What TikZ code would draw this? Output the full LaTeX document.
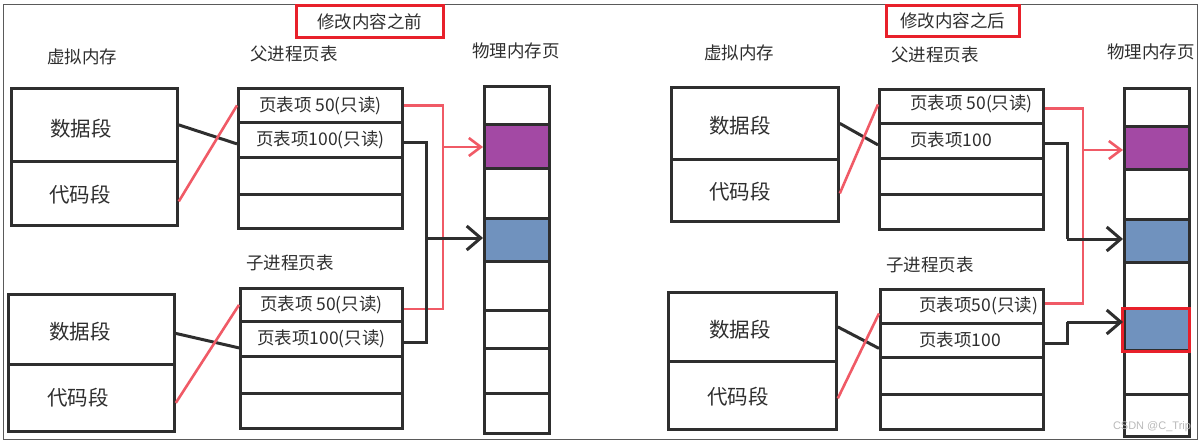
\documentclass[tikz,border=0pt]{standalone}
\usepackage{fontspec}
\setmainfont{Noto Sans CJK SC}
\newfontfamily\wmfont{Liberation Sans}
\usetikzlibrary{arrows.meta}
\definecolor{ink}{HTML}{2E2E2E}
\definecolor{pinkred}{HTML}{F05A66}
\definecolor{boxred}{HTML}{E8202A}
\definecolor{pagepurple}{HTML}{A349A4}
\definecolor{pageblue}{HTML}{7092BE}
\definecolor{framegray}{HTML}{5A5A5A}
\begin{document}
\begin{tikzpicture}[x=1pt,y=-1pt,
  cell/.style={draw=ink, line width=2.8pt, anchor=north west, inner sep=0pt,
    text=ink, font=\fontsize{17.5}{18}\selectfont},
  hdr/.style={text=ink, inner sep=0pt, font=\fontsize{17.5}{18}\selectfont},
  seg/.style={text=ink, inner sep=0pt, font=\fontsize{20.5}{21}\selectfont},
  ent/.style={text=ink, inner sep=0pt, anchor=west, font=\fontsize{17.5}{18}\selectfont},
  titlebox/.style={draw=boxred, line width=2.8pt, anchor=north west, inner sep=0pt,
    text=ink, font=\fontsize{17.5}{18}\selectfont},
  blk/.style={draw=ink, line width=3pt},
  redl/.style={draw=pinkred, line width=2.6pt},
  blkarr/.style={-{Straight Barb[length=14pt,width=24pt]}},
  redarr/.style={-{Straight Barb[length=12pt,width=18pt]}}
]
\useasboundingbox (0,0) rectangle (1201,442);
\node[draw=framegray, line width=1.3pt, anchor=north west, inner sep=0pt,
  minimum width=1194pt, minimum height=435pt] (frame) at (3,4) {};

% ================= LEFT PANEL =================
\node[titlebox, minimum width=147pt, minimum height=32pt] (ltitle) at (295,4) {修改内容之前};
\node[hdr] (lvmh) at (82,57) {虚拟内存};
\node[hdr] (lpth) at (294,54) {父进程页表};
\node[hdr] (lphh) at (516,51) {物理内存页};
\node[hdr] (lcth) at (290,263) {子进程页表};

% virtual memory
\node[cell, minimum width=166pt, minimum height=73pt] (lvd1) at (10,87) {};
\node[cell, minimum width=166pt, minimum height=64pt] (lvc1) at (10,160) {};
\node[seg] (lvd1t) at (81,129) {数据段};
\node[seg] (lvc1t) at (80,195) {代码段};
\node[cell, minimum width=166pt, minimum height=70pt] (lvd2) at (7,293) {};
\node[cell, minimum width=166pt, minimum height=67pt] (lvc2) at (7,363) {};
\node[seg] (lvd2t) at (80,332) {数据段};
\node[seg] (lvc2t) at (78,398) {代码段};

% parent page table
\node[cell, minimum width=164pt, minimum height=34pt] (lp1) at (237,87) {页表项 50(只读)};
\node[cell, minimum width=164pt, minimum height=35pt] (lp2) at (237,121) {页表项100(只读)};
\node[cell, minimum width=164pt, minimum height=37pt] (lp3) at (237,156) {};
\node[cell, minimum width=164pt, minimum height=34pt] (lp4) at (237,193) {};
% child page table
\node[cell, minimum width=162pt, minimum height=33pt] (lc1) at (239,287) {页表项 50(只读)};
\node[cell, minimum width=162pt, minimum height=35pt] (lc2) at (239,320) {页表项100(只读)};
\node[cell, minimum width=162pt, minimum height=37pt] (lc3) at (239,355) {};
\node[cell, minimum width=162pt, minimum height=35pt] (lc4) at (239,392) {};

% physical pages
\node[cell, minimum width=65pt, minimum height=38pt] (lm1) at (483,85) {};
\node[cell, minimum width=65pt, minimum height=44pt, fill=pagepurple] (lm2) at (483,123) {};
\node[cell, minimum width=65pt, minimum height=50pt] (lm3) at (483,167) {};
\node[cell, minimum width=65pt, minimum height=43pt, fill=pageblue] (lm4) at (483,217) {};
\node[cell, minimum width=65pt, minimum height=49pt] (lm5) at (483,260) {};
\node[cell, minimum width=65pt, minimum height=38pt] (lm6) at (483,309) {};
\node[cell, minimum width=65pt, minimum height=45pt] (lm7) at (483,347) {};
\node[cell, minimum width=65pt, minimum height=40pt] (lm8) at (483,392) {};

% connectors
\draw[blk] (lvd1.east) -- ([yshift=-4pt]lp2.west);
\draw[redl] ([yshift=-8pt]lvc1.east) -- (lp1.west);
\draw[blk] ([yshift=-4pt]lvd2.east) -- ([yshift=-9pt]lc2.west);
\draw[redl] ([yshift=-5pt]lvc2.east) -- (lc1.west);

\coordinate (lrj) at (443,147);
\coordinate (lbj) at (426,238);
\draw[redl] (lp1.east) -| (lrj) |- ([yshift=-4pt]lc1.east);
\draw[redl, redarr] (lrj) -- (lrj -| lm2.west);
\draw[blk] ([yshift=-3pt]lp2.east) -| (lbj) |- ([yshift=-4pt]lc2.east);
\draw[blk, blkarr] (lbj) -- (lbj -| lm4.west);

% ================= RIGHT PANEL =================
\node[titlebox, minimum width=133pt, minimum height=31pt] (rtitle) at (885,4) {修改内容之后};
\node[hdr] (rvmh) at (739,53) {虚拟内存};
\node[hdr] (rpth) at (935,55) {父进程页表};
\node[hdr] (rphh) at (1151,52) {物理内存页};
\node[hdr] (rcth) at (930,265) {子进程页表};

% virtual memory
\node[cell, minimum width=167pt, minimum height=72pt] (rvd1) at (670,86) {};
\node[cell, minimum width=167pt, minimum height=62pt] (rvc1) at (670,158) {};
\node[seg] (rvd1t) at (740,126) {数据段};
\node[seg] (rvc1t) at (740,192) {代码段};
\node[cell, minimum width=168pt, minimum height=69pt] (rvd2) at (667,291) {};
\node[cell, minimum width=168pt, minimum height=68pt] (rvc2) at (667,360) {};
\node[seg] (rvd2t) at (740,330) {数据段};
\node[seg] (rvc2t) at (738,397) {代码段};

% parent page table
\node[cell, minimum width=164pt, minimum height=34pt] (rp1) at (878,88) {};
\node[cell, minimum width=164pt, minimum height=35pt] (rp2) at (878,122) {};
\node[cell, minimum width=164pt, minimum height=36pt] (rp3) at (878,157) {};
\node[cell, minimum width=164pt, minimum height=35pt] (rp4) at (878,193) {};
\node[ent] (rp1t) at (910,104) {页表项 50(只读)};
\node[ent] (rp2t) at (910,140) {页表项100};
% child page table
\node[cell, minimum width=163pt, minimum height=34pt] (rc1) at (879,288) {};
\node[cell, minimum width=163pt, minimum height=34pt] (rc2) at (879,322) {};
\node[cell, minimum width=163pt, minimum height=37pt] (rc3) at (879,356) {};
\node[cell, minimum width=163pt, minimum height=35pt] (rc4) at (879,393) {};
\node[ent] (rc1t) at (919,306) {页表项50(只读)};
\node[ent] (rc2t) at (919,340) {页表项100};

% physical pages
\node[cell, minimum width=65pt, minimum height=38pt] (rm1) at (1123,87) {};
\node[cell, minimum width=65pt, minimum height=43pt, fill=pagepurple] (rm2) at (1123,125) {};
\node[cell, minimum width=65pt, minimum height=50pt] (rm3) at (1123,168) {};
\node[cell, minimum width=65pt, minimum height=43pt, fill=pageblue] (rm4) at (1123,218) {};
\node[cell, minimum width=65pt, minimum height=46pt] (rm5) at (1123,261) {};
\node[cell, minimum width=65pt, minimum height=42pt, fill=pageblue] (rm6) at (1123,307) {};
\node[cell, minimum width=65pt, minimum height=44pt] (rm7) at (1123,349) {};
\node[cell, minimum width=65pt, minimum height=42pt] (rm8) at (1123,393) {};
\node[draw=boxred, line width=3pt, anchor=north west, inner sep=0pt,
  minimum width=67pt, minimum height=43pt] (rhl) at (1121,307) {};

% connectors
\draw[blk] (rvd1.east) -- ([yshift=-4pt]rp2.west);
\draw[redl] ([yshift=-3pt]rvc1.east) -- ([yshift=2pt]rp1.west);
\draw[blk] (rvd2.east) -- ([yshift=-8pt]rc2.west);
\draw[redl] ([yshift=-3pt]rvc2.east) -- ([yshift=-7pt]rc1.west);

\coordinate (rrj) at (1083,150);
\coordinate (rbj) at (1067,239);
\coordinate (rbk) at (1067,322);
\draw[redl] ([yshift=-2pt]rp1.east) -| (rrj) |- ([yshift=3pt]rc1.east);
\draw[redl, redarr] (rrj) -- (rrj -| rm2.west);
\draw[blk] ([yshift=-3pt]rp2.east) -| (rbj);
\draw[blk, blkarr] (rbj) -- (rbj -| rm4.west);
\draw[blk] ([yshift=-3pt]rc2.east) -| (rbk);
\draw[blk, blkarr] (rbk) -- (rbk -| rm6.west);

\node[text=gray!55, inner sep=0pt, font=\wmfont\fontsize{11}{11}\selectfont] (wm) at (1152,427) {CSDN @C\_Trip};
\end{tikzpicture}
\end{document}
